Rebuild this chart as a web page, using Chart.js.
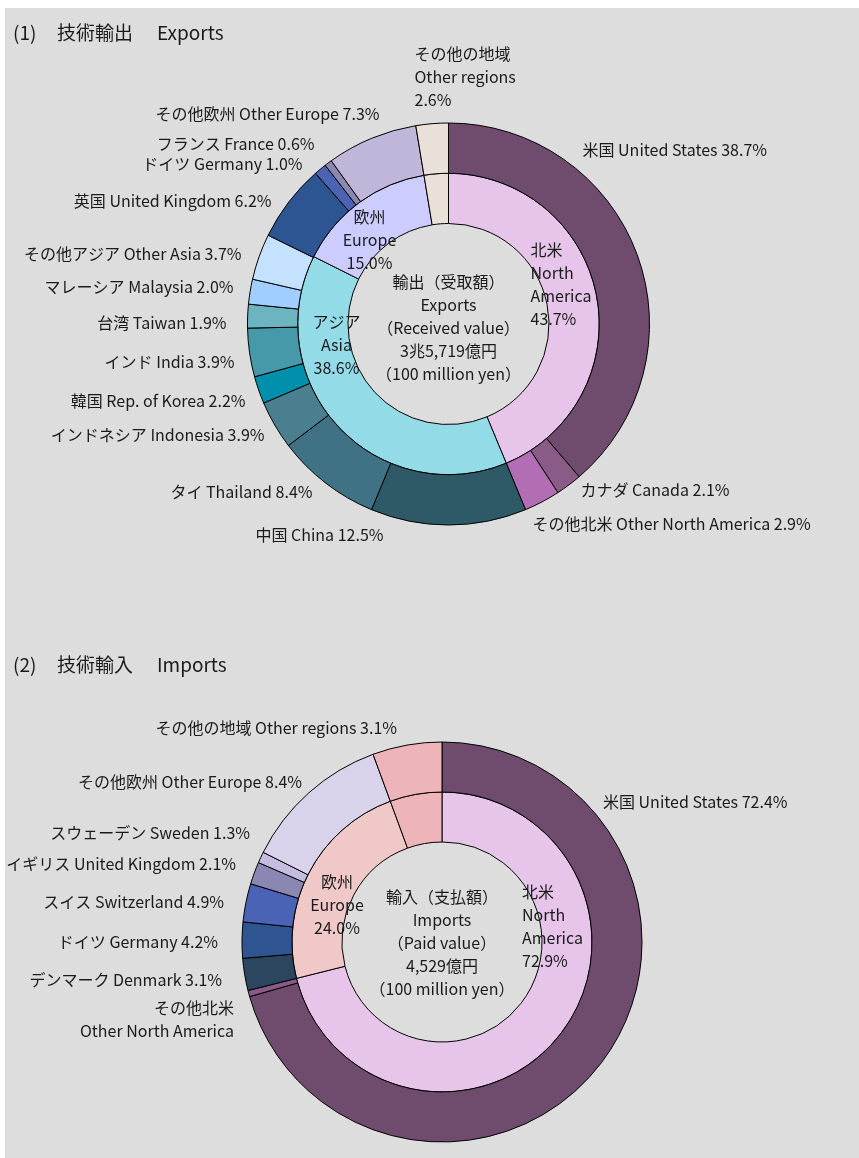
<!DOCTYPE html>
<html lang="ja">
<head>
<meta charset="utf-8">
<title>技術輸出・技術輸入</title>
<script src="https://cdn.jsdelivr.net/npm/chart.js@4.4.1/dist/chart.umd.min.js"></script>
<style>
    body { margin: 0; background: #ffffff; }
    #sheet { position: absolute; left: 5px; top: 8px; width: 854px; height: 1150px; background: #dddddd; }
    canvas { position: absolute; left: 0; }
    #graficoExport { top: 0; }
    #graficoImport { top: 580px; }
</style>
</head>
<body>
<div id="sheet"></div>
<canvas id="graficoExport" width="859" height="580"></canvas>
<canvas id="graficoImport" width="859" height="578"></canvas>
<script>
// (1) 技術輸出 — outer ring, clockwise from 12 o'clock
const exportOuterJa = ['米国', 'カナダ', 'その他北米', '中国', 'タイ', 'インドネシア', '韓国', 'インド', '台湾', 'マレーシア', 'その他アジア', '英国', 'ドイツ', 'フランス', 'その他欧州', 'その他の地域'];
const exportOuterEn = ['United States', 'Canada', 'Other North America', 'China', 'Thailand', 'Indonesia', 'Rep. of Korea', 'India', 'Taiwan', 'Malaysia', 'Other Asia', 'United Kingdom', 'Germany', 'France', 'Other Europe', 'Other regions'];
const exportOuterPct = [38.7, 2.1, 2.9, 12.5, 8.4, 3.9, 2.2, 3.9, 1.9, 2.0, 3.7, 6.2, 1.0, 0.6, 7.3, 2.6];
const exportOuterColors = ['#6f4c6e', '#8b5b88', '#b36db5', '#2e5a68', '#3f7284', '#4a7f90', '#0090ac', '#4699a8', '#6bb4c0', '#a0ceff', '#c4e2ff', '#2d5591', '#4a63b2', '#8b87b0', '#c0b6d9', '#e9e0d8'];

// (1) inner ring
const exportInnerJa = ['北米', 'アジア', '欧州', 'その他の地域'];
const exportInnerEn = ['North America', 'Asia', 'Europe', 'Other regions'];
const exportInnerPct = [43.7, 38.6, 15.0, 2.6];
const exportInnerColors = ['#e7c4ea', '#94dbe8', '#ccccff', '#e9e0d8'];

// (2) 技術輸入 — printed shares
const importOuterJa = ['米国', 'その他北米', 'デンマーク', 'ドイツ', 'スイス', 'イギリス', 'スウェーデン', 'その他欧州', 'その他の地域'];
const importOuterEn = ['United States', 'Other North America', 'Denmark', 'Germany', 'Switzerland', 'United Kingdom', 'Sweden', 'Other Europe', 'Other regions'];
const importOuterPct = [72.4, 0.5, 3.1, 4.2, 4.9, 2.1, 1.3, 8.4, 3.1];
// the arcs in the original picture do not follow the printed shares; these are the drawn sizes
const importOuterArc = [70.6, 0.5, 2.6, 2.9, 3.1, 1.8, 0.9, 12.0, 5.6];
const importOuterColors = ['#6f4c6e', '#8b5b88', '#2d465f', '#2e5591', '#4a63b5', '#8b87b3', '#c5bce0', '#d8d2ea', '#edb5b9'];

const importInnerJa = ['北米', '欧州', 'その他の地域'];
const importInnerEn = ['North America', 'Europe', 'Other regions'];
const importInnerPct = [72.9, 24.0, 3.1];
const importInnerArc = [71.1, 23.3, 5.6];
const importInnerColors = ['#e7c4ea', '#f0c8c8', '#edb5b9'];

const FONTE = "'Noto Sans CJK JP', 'Noto Sans', sans-serif";
const fonteRotulo = '16px ' + FONTE;

function pct(v) { return v.toFixed(1) + '%'; }

// label placement, offsets from the ring centre
const exportOuterPos = [
    [134, -174, 'left'], [132, 166, 'left'], [84, 200, 'left'], [-65, 211, 'right'],
    [-136, 168, 'right'], [-184, 111, 'right'], [-203, 77, 'right'], [-214, 38, 'right'],
    [-222, -1, 'right'], [-215, -37, 'right'], [-207, -70, 'right'], [-177, -123, 'right'],
    [-146, -160, 'right'], [-134, -180, 'right'], [-69, -210, 'right'], [-34, -270, 'left']
];
const importOuterPos = [
    [161, -140, 'left'], [-208, 66, 'right'], [-220, 38, 'right'], [-224, 0, 'right'],
    [-218, -40, 'right'], [-206, -78, 'right'], [-192, -109, 'right'], [-140, -160, 'right'],
    [-45, -214, 'right']
];

function rotulosExport() {
    const itens = exportOuterJa.map((ja, i) => {
        const p = exportOuterPos[i];
        const linhas = (i === exportOuterJa.length - 1)
            ? [ja, exportOuterEn[i], pct(exportOuterPct[i])]
            : [ja + ' ' + exportOuterEn[i] + ' ' + pct(exportOuterPct[i])];
        return { dx: p[0], dy: p[1], align: p[2], lines: linhas };
    });
    // inner ring
    itens.push({ dx: 82, dy: -74, align: 'left', lines: [exportInnerJa[0], 'North', 'America', pct(exportInnerPct[0])] });
    itens.push({ dx: -112, dy: -2, align: 'center', lines: [exportInnerJa[1], exportInnerEn[1], pct(exportInnerPct[1])] });
    itens.push({ dx: -79, dy: -107, align: 'center', lines: [exportInnerJa[2], exportInnerEn[2], pct(exportInnerPct[2])] });
    // centre
    itens.push({ dx: 0, dy: -42, align: 'center', lines: ['輸出（受取額）', 'Exports', '（Received value）', '3兆5,719億円', '（100 million yen）'] });
    return itens;
}

function rotulosImport() {
    const itens = importOuterJa.map((ja, i) => {
        const p = importOuterPos[i];
        const linhas = (i === 1)
            ? [ja, importOuterEn[i]]
            : [ja + ' ' + importOuterEn[i] + ' ' + pct(importOuterPct[i])];
        return { dx: p[0], dy: p[1], align: p[2], lines: linhas };
    });
    itens.push({ dx: 80, dy: -50, align: 'left', lines: [importInnerJa[0], 'North', 'America', pct(importInnerPct[0])] });
    itens.push({ dx: -105, dy: -60, align: 'center', lines: [importInnerJa[1], importInnerEn[1], pct(importInnerPct[1])] });
    itens.push({ dx: 0, dy: -45, align: 'center', lines: ['輸入（支払額）', 'Imports', '（Paid value）', '4,529億円', '（100 million yen）'] });
    return itens;
}

// draws the texts around and inside the rings
const pluginRotulos = {
    id: 'rotulos',
    afterDraw(chart, args, opts) {
        const ctx = chart.ctx;
        const arco = chart.getDatasetMeta(0).data[0];
        const cx = arco.x, cy = arco.y;
        ctx.save();
        ctx.fillStyle = '#1a1a1a';
        ctx.textBaseline = 'middle';
        ctx.textAlign = 'left';
        ctx.font = '19px ' + FONTE;
        ctx.fillText(opts.titulo[0], 13, opts.tituloY);
        ctx.fillText(opts.titulo[1], 57, opts.tituloY);
        ctx.fillText(opts.titulo[2], 157, opts.tituloY);
        ctx.font = fonteRotulo;
        opts.itens.forEach(item => {
            ctx.textAlign = item.align;
            item.lines.forEach((linha, k) => ctx.fillText(linha, cx + item.dx, cy + item.dy + k * 23));
        });
        ctx.restore();
    }
};

function opcoes(raio, pad, titulo, tituloY, itens) {
    return {
        responsive: false,
        animation: false,
        events: [],
        cutout: '50%',
        radius: raio,
        layout: { padding: pad },
        plugins: {
            legend: { display: false },
            tooltip: { enabled: false },
            rotulos: { titulo: titulo, tituloY: tituloY, itens: itens }
        }
    };
}

// (1) exports: centre (449, 324), radius 201
new Chart(document.getElementById('graficoExport'), {
    type: 'doughnut',
    data: {
        labels: exportOuterJa,
        datasets: [{
            data: exportOuterPct,
            backgroundColor: exportOuterColors,
            borderColor: '#000000',
            borderWidth: 1
        }, {
            data: exportInnerPct,
            backgroundColor: exportInnerColors,
            borderColor: '#000000',
            borderWidth: 1
        }]
    },
    options: opcoes(201, { left: 248, right: 210, top: 123, bottom: 55 }, ['(1)', '技術輸出', 'Exports'], 33, rotulosExport()),
    plugins: [pluginRotulos]
});

// (2) imports: centre (442, 942) on the page, radius 200
new Chart(document.getElementById('graficoImport'), {
    type: 'doughnut',
    data: {
        labels: importOuterJa,
        datasets: [{
            data: importOuterArc,
            backgroundColor: importOuterColors,
            borderColor: '#000000',
            borderWidth: 1
        }, {
            data: importInnerArc,
            backgroundColor: importInnerColors,
            borderColor: '#000000',
            borderWidth: 1
        }]
    },
    options: opcoes(200, { left: 242, right: 217, top: 162, bottom: 16 }, ['(2)', '技術輸入', 'Imports'], 85, rotulosImport()),
    plugins: [pluginRotulos]
});
</script>
</body>
</html>
